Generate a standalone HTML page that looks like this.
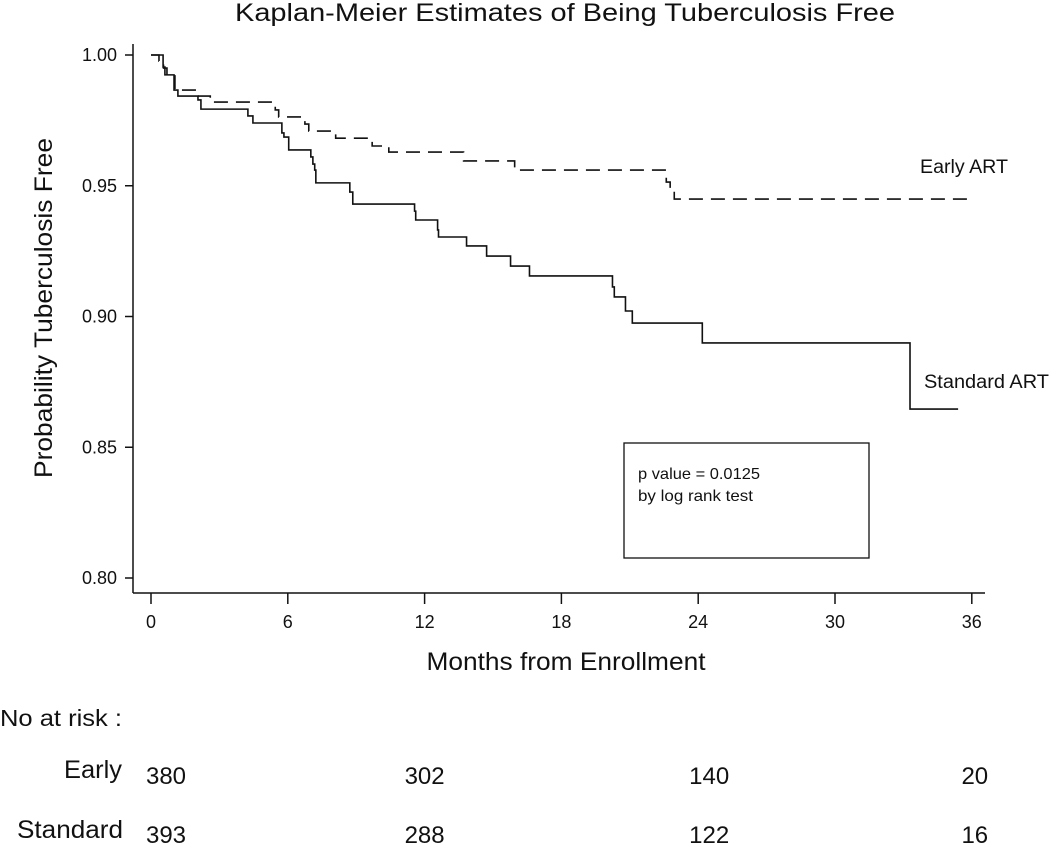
<!DOCTYPE html>
<html><head><meta charset="utf-8"><style>
html,body{margin:0;padding:0;background:#fff;}
svg text{font-family:"Liberation Sans",Arial,sans-serif;fill:#111;}
</style></head><body>
<svg id="chart" width="1050" height="846" viewBox="0 0 1050 846" xmlns="http://www.w3.org/2000/svg">
<text x="565" y="21" font-size="25" text-anchor="middle" textLength="660" lengthAdjust="spacingAndGlyphs">Kaplan-Meier Estimates of Being Tuberculosis Free</text>
<line x1="133" y1="44" x2="133" y2="593" stroke="#111" stroke-width="1.5"/>
<line x1="133" y1="593" x2="985" y2="593" stroke="#111" stroke-width="1.5"/>
<g id="yticks"></g><g id="xticks"></g>
<text transform="translate(52,308) rotate(-90)" font-size="25" text-anchor="middle" textLength="340" lengthAdjust="spacingAndGlyphs">Probability Tuberculosis Free</text>
<text x="566" y="670" font-size="25" text-anchor="middle" textLength="279" lengthAdjust="spacingAndGlyphs">Months from Enrollment</text>
<path id="early" fill="none" stroke="#111" stroke-width="1.6" stroke-dasharray="14,8"/>
<path id="standard" fill="none" stroke="#111" stroke-width="1.6"/>
<text x="920" y="173" font-size="19" textLength="88" lengthAdjust="spacingAndGlyphs">Early ART</text>
<text x="924" y="388" font-size="19" textLength="125" lengthAdjust="spacingAndGlyphs">Standard ART</text>
<rect x="624" y="443" width="245" height="115" fill="none" stroke="#111" stroke-width="1.3"/>
<text x="638" y="479" font-size="16" textLength="122" lengthAdjust="spacingAndGlyphs">p value = 0.0125</text>
<text x="638" y="501" font-size="16" textLength="115" lengthAdjust="spacingAndGlyphs">by log rank test</text>
<text x="0" y="726" font-size="23" textLength="122" lengthAdjust="spacingAndGlyphs">No at risk :</text>
<text x="122" y="778" font-size="25" text-anchor="end" textLength="58" lengthAdjust="spacingAndGlyphs">Early</text>
<text x="123" y="838" font-size="25" text-anchor="end" textLength="106" lengthAdjust="spacingAndGlyphs">Standard</text>
<g id="risk"></g>
</svg>
<script>
const times = [0, 12, 24, 36];
const riskEarly = [380, 302, 140, 20];
const riskStandard = [393, 288, 122, 16];
const yTickVals = [0.80, 0.85, 0.90, 0.95, 1.00];
const xTickVals = [0, 6, 12, 18, 24, 30, 36];
const stdTimes = [0,0.53,0.61,1.01,1.18,2.06,2.19,4.25,4.47,5.74,5.83,6.04,7.01,7.10,7.18,7.23,8.72,8.85,11.56,11.61,12.57,12.61,13.84,14.72,15.77,16.60,20.24,20.32,20.81,21.11,24.18,33.29];
const stdVals = [1,0.9954,0.9924,0.9866,0.9843,0.9828,0.9793,0.9767,0.9740,0.9702,0.9686,0.9637,0.9610,0.9583,0.9560,0.9511,0.9476,0.9430,0.9403,0.9369,0.9331,0.9304,0.9270,0.9231,0.9193,0.9155,0.9113,0.9075,0.9021,0.8975,0.8899,0.8646];
const stdEnd = 35.4;
const earlyTimes = [0,0.35,0.55,0.70,1.05,2.06,2.60,5.45,5.60,6.75,6.92,8.10,9.70,10.43,13.71,15.95,22.60,22.77,22.95];
const earlyVals = [1,0.9977,0.9950,0.9920,0.9866,0.9843,0.9820,0.9790,0.9763,0.9736,0.9709,0.9682,0.9652,0.9629,0.9595,0.9560,0.9514,0.9495,0.9449];
const earlyEnd = 35.95;

const X = t => 151 + t * 22.8;
const Y = v => 578 - (v - 0.80) * 2615;
const colNudge = [15, 0, 11, 3];
const NS = "http://www.w3.org/2000/svg";
function mk(tag, attrs, parent, txt){const e=document.createElementNS(NS,tag);for(const k in attrs)e.setAttribute(k,attrs[k]);if(txt!==undefined)e.textContent=txt;parent.appendChild(e);return e;}
function stepPath(ts, vs, end){let d=`M${X(ts[0])},${Y(vs[0])}`;for(let i=1;i<ts.length;i++){d+=` H${X(ts[i])} V${Y(vs[i])}`;}d+=` H${X(end)}`;return d;}
document.getElementById('standard').setAttribute('d', stepPath(stdTimes, stdVals, stdEnd));
document.getElementById('early').setAttribute('d', stepPath(earlyTimes, earlyVals, earlyEnd));
const yt=document.getElementById('yticks');
yTickVals.forEach(v=>{
  const l=mk('line',{x1:125,x2:133,y1:Y(v),y2:Y(v),stroke:'#111','stroke-width':1.5},yt);
  
  
  const t=mk('text',{x:117,y:Y(v)+6,'font-size':18,'text-anchor':'end'},yt,v.toFixed(2));
  
  
});
const xt=document.getElementById('xticks');
xTickVals.forEach(v=>{
  const l=mk('line',{x1:X(v),x2:X(v),y1:593,y2:604,stroke:'#111','stroke-width':1.5},xt);
  
  
  const t=mk('text',{x:X(v),y:628,'font-size':18,'text-anchor':'middle'},xt,String(v));
  
  
});
const rg=document.getElementById('risk');
times.forEach((tm,i)=>{
  const e=mk('text',{x:X(tm)+colNudge[i],y:784,'font-size':24,'text-anchor':'middle'},rg,String(riskEarly[i]));
  
  
  const s=mk('text',{x:X(tm)+colNudge[i],y:843,'font-size':24,'text-anchor':'middle'},rg,String(riskStandard[i]));
  
  
});
</script>
</body></html>
